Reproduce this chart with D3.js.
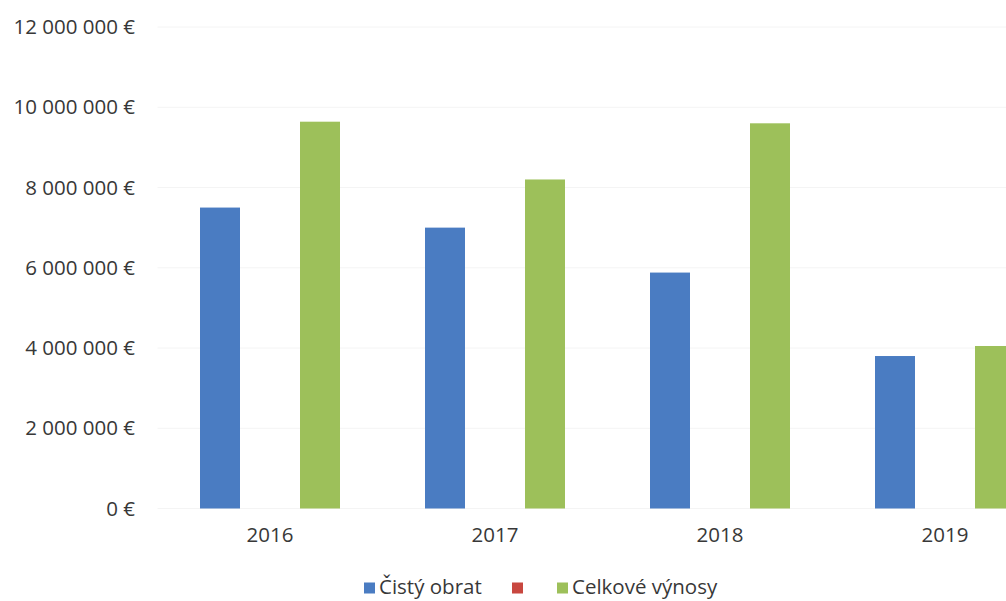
<!DOCTYPE html>
<html>
<head>
<meta charset="utf-8">
<script src="https://cdn.jsdelivr.net/npm/d3@7"></script>
<style>
  html, body { margin: 0; padding: 0; background: #ffffff; }
  svg { display: block; font-family: "Open Sans", "Noto Sans", sans-serif; }
</style>
</head>
<body>
<svg id="chart" width="1006" height="601"></svg>
<script>
// Categories and series
const years = ["2016", "2017", "2018", "2019"];
const seriesNames = ["Čistý obrat", "", "Celkové výnosy"];
const cistyObrat = [7500000, 7000000, 5880000, 3800000];
const druhaRada = [0, 0, 0, 0];
const celkoveVynosy = [9640000, 8200000, 9600000, 4050000];
const yTicks = [0, 2000000, 4000000, 6000000, 8000000, 10000000, 12000000];

const seriesValues = [cistyObrat, druhaRada, celkoveVynosy];
const colors = ["#4a7cc2", "#c8473f", "#9dc05a"];
const textColor = "#383838";
const fontSize = "20.5px";

const svg = d3.select("#chart");
const W = 1006;

// Plot area (the category axis runs past the right edge of the page)
const plot = { left: 157.5, right: 1057.5, top: 27, bottom: 508.5 };

const x = d3.scaleBand().domain(years).range([plot.left, plot.right]).padding(0);
const xInner = d3.scaleBand()
  .domain(d3.range(seriesValues.length))
  .range([42.5, 182.5])
  .paddingInner(0.2)
  .paddingOuter(0);
const y = d3.scaleLinear().domain([0, 12000000]).range([plot.bottom, plot.top]);

const locale = d3.formatLocale({ decimal: ",", thousands: " ", grouping: [3], currency: ["", " €"] });
const fmt = v => locale.format(",d")(v) + " €";

// Faint horizontal gridlines
svg.append("g")
  .selectAll("line")
  .data(yTicks)
  .join("line")
  .attr("x1", plot.left)
  .attr("x2", W)
  .attr("y1", d => y(d))
  .attr("y2", d => y(d))
  .attr("stroke", "#f4f4f4")
  .attr("stroke-width", 1);

// Value axis labels
const yAxis = d3.axisLeft(y).tickValues(yTicks).tickFormat(fmt).tickSize(0).tickPadding(0);
const gy = svg.append("g").attr("transform", "translate(135,0)").call(yAxis);
gy.select(".domain").remove();
gy.selectAll("text")
  .attr("fill", textColor)
  .style("font-size", fontSize)
  .style("font-family", "'Open Sans', sans-serif");

// Bars
const groups = svg.append("g")
  .selectAll("g")
  .data(years)
  .join("g")
  .attr("transform", d => `translate(${x(d)},0)`);

groups.selectAll("rect")
  .data((d, i) => seriesValues.map((vals, s) => ({ s, v: vals[i] })))
  .join("rect")
  .attr("x", d => xInner(d.s))
  .attr("width", xInner.bandwidth())
  .attr("y", d => y(d.v))
  .attr("height", d => y(0) - y(d.v))
  .attr("fill", d => colors[d.s]);

// Category axis labels
const xAxis = d3.axisBottom(x).tickSize(0).tickPadding(0);
const gx = svg.append("g").attr("transform", `translate(0,${plot.bottom + 19})`).call(xAxis);
gx.select(".domain").remove();
gx.selectAll("text")
  .attr("fill", textColor)
  .style("font-size", fontSize)
  .style("font-family", "'Open Sans', sans-serif");

// Legend
const legend = svg.append("g").attr("transform", "translate(0,587)");
const legendX = [364, 512, 557];
seriesNames.forEach((name, i) => {
  legend.append("rect")
    .attr("x", legendX[i])
    .attr("y", -4.5)
    .attr("width", 11)
    .attr("height", 11)
    .attr("fill", colors[i]);
  legend.append("text")
    .attr("x", legendX[i] + 15)
    .attr("y", 0)
    .attr("dy", "0.35em")
    .attr("fill", textColor)
    .style("font-size", fontSize)
    .text(name);
});
</script>
</body>
</html>
